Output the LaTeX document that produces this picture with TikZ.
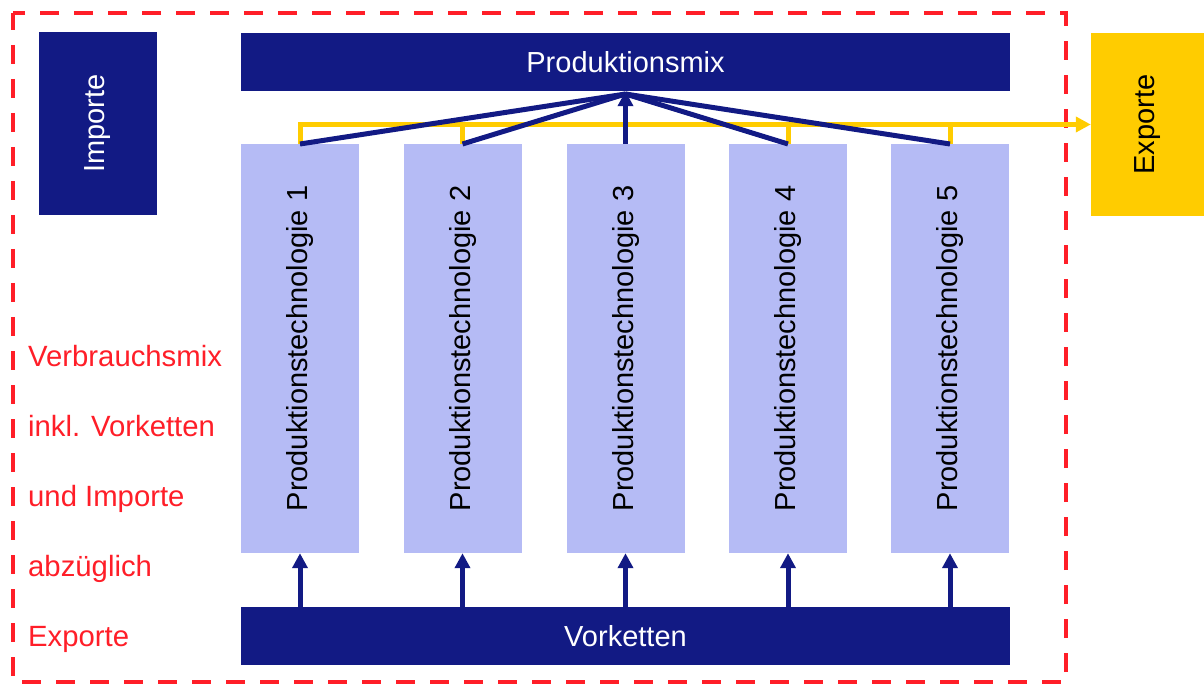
\documentclass[tikz,border=0pt]{standalone}
\usepackage{fontspec}
\setmainfont{Liberation Sans}
\usetikzlibrary{arrows.meta}
\definecolor{navy}{RGB}{18,26,132}
\definecolor{lav}{RGB}{181,187,245}
\definecolor{gold}{RGB}{255,204,0}
\definecolor{redd}{RGB}{255,30,40}
\tikzset{
  darkbox/.style={fill=navy,text=white,inner sep=0pt,font=\fontsize{29}{34}\selectfont},
  techbox/.style={fill=lav,text=black,inner sep=0pt,font=\fontsize{29}{34}\selectfont},
  navyarrow/.style={draw=navy,line width=5pt,-{Triangle[length=15pt,width=15pt]}},
  navyline/.style={draw=navy,line width=5pt},
  yelline/.style={draw=gold,line width=5pt},
  yelarrow/.style={draw=gold,line width=5pt,-{Triangle[length=15pt,width=15pt]}},
  border/.style={draw=redd,line width=4pt,dash pattern=on 19pt off 15pt,dash phase=2pt}
}
\begin{document}
\begin{tikzpicture}[x=1pt,y=-1pt]
\useasboundingbox (0,0) rectangle (1204,684);
\draw[border] (13,13) rectangle (1066,682);
\node[darkbox,minimum width=183pt,minimum height=118pt,rotate=90] (imp) at (98,123.5) {Importe};
\node[darkbox,minimum width=769pt,minimum height=58pt] (pmix) at (625.5,62) {Produktionsmix};
\node[darkbox,minimum width=769pt,minimum height=58pt] (vk) at (625.5,636) {Vorketten};
\node[fill=gold,text=black,inner sep=0pt,minimum width=183pt,minimum height=113pt,rotate=90,font=\fontsize{29}{34}\selectfont] (exp) at (1147.5,124.5) {Exporte};
\node[techbox,rotate=90,minimum width=409pt,minimum height=118pt] (t1) at (300,348.5) {Produktionstechnologie 1};
\node[techbox,rotate=90,minimum width=409pt,minimum height=118pt] (t2) at (462.5,348.5) {Produktionstechnologie 2};
\node[techbox,rotate=90,minimum width=409pt,minimum height=118pt] (t3) at (625.5,348.5) {Produktionstechnologie 3};
\node[techbox,rotate=90,minimum width=409pt,minimum height=118pt] (t4) at (788,348.5) {Produktionstechnologie 4};
\node[techbox,rotate=90,minimum width=409pt,minimum height=118pt] (t5) at (950,348.5) {Produktionstechnologie 5};
% yellow bus
\coordinate (b1) at (300,144);
\coordinate (b2) at (462.5,144);
\coordinate (b3) at (625.5,144);
\coordinate (b4) at (788,144);
\coordinate (b5) at (950,144);
\coordinate (bus) at (300,125);
\draw[yelarrow] (b1) |- (exp.north);
\foreach \b in {b2,b3,b4,b5} \draw[yelline] (\b) -- (\b |- bus);
% navy lines to Produktionsmix
\coordinate (apex) at (625.5,94);
\foreach \b in {b1,b2,b4,b5} \draw[navyline] (\b) -- (apex);
\draw[navyarrow] (b3) -- (pmix.south);
% Vorketten arrows
\draw[navyarrow] (vk.north -| b1) -- (t1.west);
\draw[navyarrow] (vk.north -| b2) -- (t2.west);
\draw[navyarrow] (vk.north -| b3) -- (t3.west);
\draw[navyarrow] (vk.north -| b4) -- (t4.west);
\draw[navyarrow] (vk.north -| b5) -- (t5.west);
% red text
\node[anchor=west,align=left,text=redd,inner sep=0pt,font=\fontsize{29.3}{70}\selectfont] (txt) at (28,499)
 {Verbrauchsmix\\inkl. Vorketten\\und Importe\\abzüglich\\Exporte};
\end{tikzpicture}
\end{document}
